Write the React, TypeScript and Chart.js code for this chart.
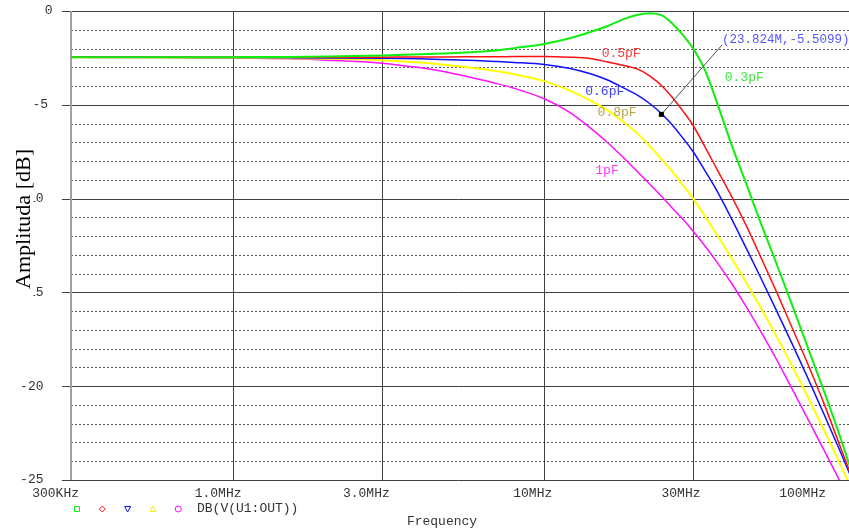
import React, { useEffect, useRef } from "react";
import { Chart, registerables } from "chart.js";

Chart.register(...registerables);

// Frequencies in MHz
const freqMHz = [0.3, 0.5, 1, 1.5, 2, 3, 4, 5, 6, 7, 8, 10, 12, 14, 16, 18, 20, 22, 24, 26, 28, 30, 33, 36, 40, 45, 50, 56, 63, 70, 80, 90, 100];

// Amplitude [dB] for each capacitance
const db03pF = [-2.47, -2.47, -2.46, -2.45, -2.43, -2.37, -2.31, -2.25, -2.18, -2.1, -1.98, -1.76, -1.47, -1.13, -0.8, -0.43, -0.2, -0.12, -0.25, -0.72, -1.3, -1.95, -3.2, -4.9, -7.1, -9.35, -11.4, -13.5, -15.75, -17.8, -20.4, -22.8, -25.1];
const db05pF = [-2.47, -2.47, -2.47, -2.47, -2.47, -2.46, -2.45, -2.45, -2.44, -2.44, -2.43, -2.43, -2.46, -2.53, -2.72, -2.9, -3.1, -3.5, -4.02, -4.66, -5.35, -6.05, -7.28, -8.45, -9.85, -11.55, -13.2, -15.0, -16.95, -18.7, -21.05, -23.3, -25.3];
const db06pF = [-2.47, -2.47, -2.48, -2.49, -2.5, -2.52, -2.55, -2.6, -2.64, -2.69, -2.74, -2.85, -3.05, -3.33, -3.68, -4.1, -4.5, -4.97, -5.52, -6.13, -6.8, -7.45, -8.55, -9.6, -11.05, -12.75, -14.3, -16.0, -17.8, -19.45, -21.6, -23.55, -25.35];
const db08pF = [-2.47, -2.47, -2.49, -2.52, -2.55, -2.62, -2.75, -2.9, -3.05, -3.2, -3.37, -3.74, -4.22, -4.76, -5.3, -5.92, -6.55, -7.25, -7.95, -8.62, -9.3, -9.95, -10.98, -11.94, -13.15, -14.57, -15.89, -17.37, -18.98, -20.47, -22.43, -24.23, -25.88];
const db1pF = [-2.47, -2.48, -2.5, -2.55, -2.62, -2.78, -3.03, -3.3, -3.6, -3.86, -4.12, -4.68, -5.38, -6.2, -7.02, -7.82, -8.58, -9.28, -9.93, -10.55, -11.12, -11.7, -12.55, -13.4, -14.5, -15.85, -17.15, -18.6, -20.2, -21.65, -23.5, -25.15, -26.6];

const seriesValues = [db03pF, db05pF, db06pF, db08pF, db1pF];
const seriesNames = ["0.3pF", "0.5pF", "0.6pF", "0.8pF", "1pF"];
const seriesColors = ["#10ee10", "#ff1010", "#1010ff", "#ffff00", "#ff10ff"];
const seriesWidths = [2, 1.5, 1.5, 2, 1.5];
const labelColors = ["#3ce83c", "#ff3a3a", "#4040ff", "#b8a440", "#ff3aff"];
// label anchor positions (left edge, vertical centre) in data units
const labelFreqMHz = [38.1, 15.3, 13.55, 14.85, 14.6];
const labelDb = [-3.57, -2.29, -4.32, -5.44, -8.53];

const xTickValues = [0.3, 1, 3, 10, 30, 100];
const xTickLabels = ["300KHz", "1.0MHz", "3.0MHz", "10MHz", "30MHz", "100MHz"];
const yTickValues = [0, -5, -10, -15, -20, -25];
const yTickLabels = ["0", "-5", "-10", "-15", "-20", "-25"];

const markerFreqMHz = 23.824;
const markerDb = -5.5099;
const markerText = "(23.824M,-5.5099)";
const markerTextFreqMHz = 37.3;
const markerTextDb = -1.55;

const legendText = "DB(V(U1:OUT))";
const xTitle = "Frequency";
const yTitle = "Amplituda [dB]";

const W = 856;
const H = 529;
const MONO = "'Liberation Mono', 'DejaVu Sans Mono', monospace";

function seg(ctx: CanvasRenderingContext2D, x1: number, y1: number, x2: number, y2: number) {
  ctx.beginPath();
  ctx.moveTo(x1, y1);
  ctx.lineTo(x2, y2);
  ctx.stroke();
}

const framePlugin = {
  id: "pspiceFrame",
  beforeDatasetsDraw(chart: any) {
    const { ctx, chartArea: a, scales } = chart;
    const x = scales.x;
    const y = scales.y;
    ctx.save();
    ctx.lineWidth = 1;
    ctx.strokeStyle = "#5a5a5a";
    ctx.setLineDash([2, 2]);
    for (let v = -1; v > -25; v--) {
      if (v % 5 === 0) continue;
      const py = Math.round(y.getPixelForValue(v)) + 0.5;
      seg(ctx, a.left, py, a.right, py);
    }
    ctx.setLineDash([]);
    ctx.strokeStyle = "#404040";
    for (const v of yTickValues) {
      const py = Math.round(y.getPixelForValue(v)) + 0.5;
      seg(ctx, a.left - 9, py, a.right, py);
    }
    for (const v of xTickValues) {
      if (v === xTickValues[0] || v === xTickValues[xTickValues.length - 1]) continue;
      const px = Math.round(x.getPixelForValue(v)) + 0.5;
      seg(ctx, px, a.top, px, a.bottom);
    }
    ctx.strokeStyle = "#a0a0a0";
    ctx.lineWidth = 2;
    seg(ctx, a.left, a.top, a.left, a.bottom);
    ctx.restore();
  },
  afterDraw(chart: any) {
    const { ctx, chartArea: a, scales } = chart;
    const x = scales.x;
    const y = scales.y;
    ctx.save();
    ctx.font = "13px " + MONO;
    ctx.fillStyle = "#333333";
    ctx.textBaseline = "middle";

    // y tick labels
    ctx.textAlign = "right";
    yTickValues.forEach((v, i) => {
      const t = yTickLabels[i];
      ctx.fillText(t, a.left - 14 - 4.5 * t.length, y.getPixelForValue(v));
    });

    // x tick labels
    xTickValues.forEach((v, i) => {
      const px = Math.min(x.getPixelForValue(v) + 8, W - 30);
      ctx.fillText(xTickLabels[i], px, a.bottom + 14);
    });

    // y title with white box
    ctx.fillStyle = "#ffffff";
    ctx.fillRect(0, 130, 33.5, 217);
    ctx.save();
    ctx.translate(24, 219);
    ctx.rotate(-Math.PI / 2);
    ctx.textAlign = "center";
    ctx.textBaseline = "middle";
    ctx.font = "22px 'Liberation Serif', 'DejaVu Serif', serif";
    ctx.fillStyle = "#000000";
    ctx.fillText(yTitle, 0, 0);
    ctx.restore();

    // legend symbols
    const ly = a.bottom + 29;
    ctx.lineWidth = 1;
    seriesColors.forEach((c, i) => {
      const cx = a.left + 6 + i * 25.3;
      ctx.strokeStyle = c === "#ffff00" ? "#f0f000" : c;
      ctx.beginPath();
      if (i === 0) {
        ctx.rect(cx - 2.5, ly - 2.5, 5, 5);
      } else if (i === 1) {
        ctx.moveTo(cx, ly - 3);
        ctx.lineTo(cx + 3, ly);
        ctx.lineTo(cx, ly + 3);
        ctx.lineTo(cx - 3, ly);
        ctx.closePath();
      } else if (i === 2) {
        ctx.moveTo(cx - 3, ly - 2.5);
        ctx.lineTo(cx + 3, ly - 2.5);
        ctx.lineTo(cx, ly + 3);
        ctx.closePath();
      } else if (i === 3) {
        ctx.moveTo(cx - 3, ly + 2.5);
        ctx.lineTo(cx + 3, ly + 2.5);
        ctx.lineTo(cx, ly - 3);
        ctx.closePath();
      } else {
        ctx.arc(cx, ly, 3, 0, Math.PI * 2);
      }
      ctx.stroke();
    });
    ctx.fillStyle = "#333333";
    ctx.textAlign = "left";
    ctx.font = "13px " + MONO;
    ctx.fillText(legendText, a.left + 126, ly);

    // x title
    ctx.textAlign = "center";
    ctx.fillText(xTitle, a.left + 371, a.bottom + 42);

    // curve labels
    ctx.textAlign = "left";
    seriesNames.forEach((n, i) => {
      ctx.fillStyle = labelColors[i];
      ctx.fillText(n, x.getPixelForValue(labelFreqMHz[i]), y.getPixelForValue(labelDb[i]));
    });

    // marker + annotation
    const mx = x.getPixelForValue(markerFreqMHz);
    const my = y.getPixelForValue(markerDb);
    const tx = x.getPixelForValue(markerTextFreqMHz);
    const ty = y.getPixelForValue(markerTextDb);
    ctx.strokeStyle = "#505050";
    ctx.lineWidth = 1;
    seg(ctx, mx, my, tx, ty + 5);
    ctx.fillStyle = "#000000";
    ctx.fillRect(mx - 2.5, my - 2.5, 5, 5);
    ctx.fillStyle = "#5555ff";
    ctx.font = "12.5px " + MONO;
    ctx.fillText(markerText, tx, ty);
    ctx.restore();
  },
};

export default function App() {
  const ref = useRef<HTMLCanvasElement | null>(null);
  useEffect(() => {
    if (!ref.current) return;
    const chart = new Chart(ref.current, {
      type: "line",
      data: {
        datasets: seriesValues.map((vals, i) => ({
          label: seriesNames[i],
          data: freqMHz.map((f, j) => ({ x: f, y: vals[j] })),
          borderColor: seriesColors[i],
          borderWidth: seriesWidths[i],
          pointRadius: 0,
          fill: false,
          cubicInterpolationMode: "monotone" as const,
        })),
      },
      options: {
        animation: false,
        responsive: false,
        devicePixelRatio: 1,
        events: [],
        layout: { padding: { left: 71, top: 11, right: 1, bottom: 49 } },
        scales: {
          x: { type: "logarithmic", min: 0.3, max: 100, display: false },
          y: { type: "linear", min: -25, max: 0, display: false },
        },
        plugins: { legend: { display: false }, tooltip: { enabled: false } },
      },
      plugins: [framePlugin],
    });
    return () => chart.destroy();
  }, []);
  return (
    <div style={{ position: "fixed", left: 0, top: 0, width: W, height: H, background: "#fff" }}>
      <canvas ref={ref} width={W} height={H} style={{ width: W, height: H, display: "block" }} />
    </div>
  );
}
